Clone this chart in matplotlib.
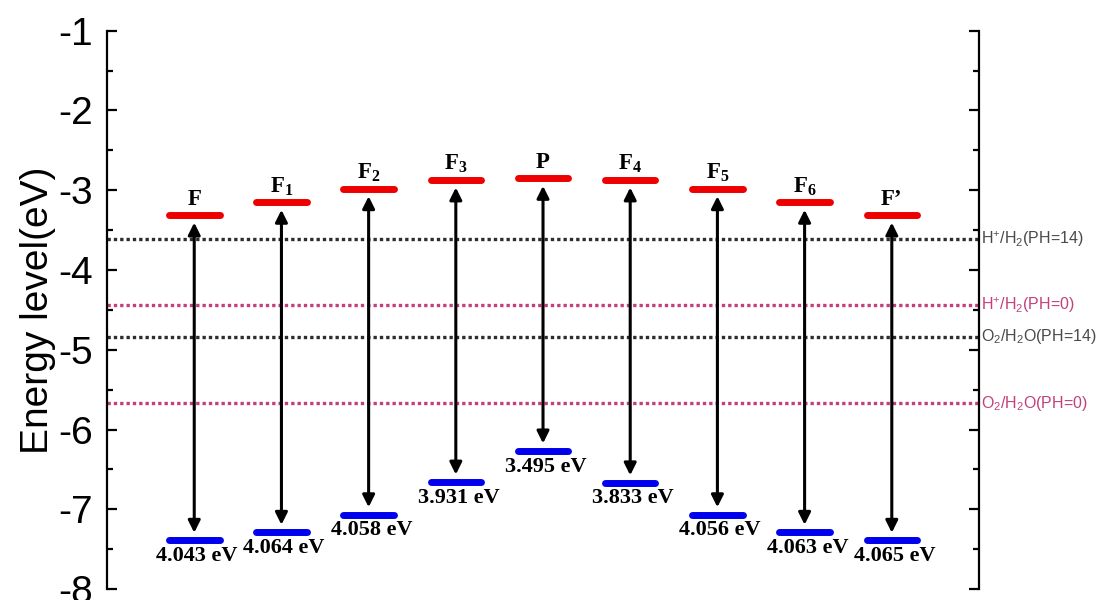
import matplotlib
matplotlib.use("Agg")
import matplotlib.pyplot as plt
from matplotlib.ticker import MultipleLocator

plt.rcParams['mathtext.fontset'] = 'custom'
plt.rcParams['mathtext.rm'] = 'Liberation Sans'
plt.rcParams['mathtext.bf'] = 'Liberation Serif:bold'
plt.rcParams['font.family'] = ['Liberation Sans', 'DejaVu Sans']
plt.rcParams['axes.unicode_minus'] = False

# ---- data ----
names = ['F', r'F$_\mathbf{1}$', r'F$_\mathbf{2}$', r'F$_\mathbf{3}$', 'P',
         r'F$_\mathbf{4}$', r'F$_\mathbf{5}$', r'F$_\mathbf{6}$', 'F’']
cb = [-3.31, -3.15, -2.98, -2.87, -2.85, -2.87, -2.98, -3.15, -3.31]
vb = [-7.39, -7.29, -7.07, -6.66, -6.27, -6.67, -7.07, -7.29, -7.39]
gaps = ['4.043 eV', '4.064 eV', '4.058 eV', '3.931 eV', '3.495 eV',
        '3.833 eV', '4.056 eV', '4.063 eV', '4.065 eV']
ref_levels = [-3.61, -4.44, -4.84, -5.67]
ref_labels = [r'H$^{+}$/H$_{2}$(PH=14)', r'H$^{+}$/H$_{2}$(PH=0)',
              r'O$_{2}$/H$_{2}$O(PH=14)', r'O$_{2}$/H$_{2}$O(PH=0)']
ref_colors = ['#2e2e2e', '#c2407c', '#2e2e2e', '#c2407c']
ref_text_colors = ['#4a4a4a', '#c2407c', '#4a4a4a', '#c2407c']
yticks = [-1, -2, -3, -4, -5, -6, -7, -8]

fig = plt.figure(figsize=(10.99, 6.0), dpi=100)
ax = fig.add_axes([0.0974, 0.0183, 0.7934, 0.9305])

xs = list(range(1, len(names) + 1))
hw = 0.29

for lvl, c in zip(ref_levels, ref_colors):
    ax.plot([0, 10], [lvl, lvl], color=c, lw=2.4, linestyle=(0, (1.0, 0.9)),
            zorder=1, dash_capstyle='butt')

for x, c, v, nm, g in zip(xs, cb, vb, names, gaps):
    ax.annotate('', xy=(x, v), xytext=(x, c),
                arrowprops=dict(arrowstyle='<|-|>', color='black', lw=2.2,
                                mutation_scale=18, shrinkA=5.5, shrinkB=5.5),
                zorder=2)
    ax.plot([x - hw, x + hw], [c, c], color='#ee0000', lw=5,
            solid_capstyle='round', zorder=3)
    ax.plot([x - hw, x + hw], [v, v], color='#0000ee', lw=5,
            solid_capstyle='round', zorder=3)
    ax.annotate(nm, xy=(x, c), xytext=(0, 7.5), textcoords='offset points',
                ha='center', va='baseline', fontsize=16.5, fontweight='bold',
                family='Liberation Serif')
    ax.annotate(g, xy=(x, v), xytext=(2, -4), textcoords='offset points',
                ha='center', va='top', fontsize=16, fontweight='bold',
                family='Liberation Serif')

for lvl, lab, tc in zip(ref_levels, ref_labels, ref_text_colors):
    ax.text(10.02, lvl, lab, color=tc, fontsize=11.5, ha='left', va='center',
            clip_on=False)

ax.set_xlim(0, 10)
ax.set_ylim(-8, -1)
ax.set_yticks(yticks)
ax.yaxis.set_minor_locator(MultipleLocator(0.5))
ax.set_xticks([])
ax.spines['top'].set_visible(False)
ax.spines['bottom'].set_visible(False)
for s in ('left', 'right'):
    ax.spines[s].set_linewidth(1.6)
ax.tick_params(axis='y', which='both', direction='in', left=True, right=True,
               width=1.6)
ax.tick_params(axis='y', which='major', length=7.5, labelsize=28, pad=10)
ax.tick_params(axis='y', which='minor', length=4.5)
ax.set_ylabel('Energy level(eV)', fontsize=28, labelpad=2)

fig.savefig('out.png', dpi=100)
